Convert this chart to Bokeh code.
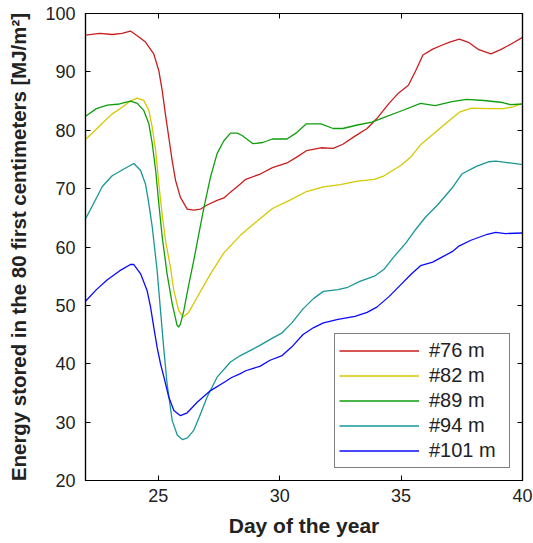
from bokeh.plotting import figure
from bokeh.models import LinearAxis, Range1d, Legend, LegendItem, FixedTicker
from bokeh.embed import file_html
from bokeh.resources import INLINE

# ---- data ----
x76 = [22.0, 22.6, 23.1, 23.5, 23.85, 24.13, 24.47, 24.81, 25.02, 25.16, 25.29, 25.43, 25.57, 25.71, 25.91,
       26.19, 26.46, 26.74, 27.01, 27.42, 27.7, 27.97, 28.38, 28.6, 29.2, 29.7, 30.3, 30.7, 31.1, 31.7, 32.2,
       32.6, 33.1, 33.6, 34.0, 34.5, 34.9, 35.3, 35.6, 35.9, 36.3, 36.7, 37.0, 37.4, 37.8, 38.2, 38.7, 39.1,
       39.5, 40.0]
y76 = [96.3, 96.6, 96.4, 96.6, 97.0, 96.2, 95.1, 93.1, 90.2, 86.8, 82.8, 78.8, 74.8, 71.4, 68.5,
       66.5, 66.3, 66.5, 67.2, 68.0, 68.4, 69.4, 70.8, 71.6, 72.5, 73.6, 74.4, 75.4, 76.5, 77.0, 76.9,
       77.6, 79.0, 80.3, 82.0, 84.6, 86.4, 87.7, 90.2, 92.9, 93.9, 94.6, 95.1, 95.6, 95.0, 93.8, 93.1, 93.8,
       94.7, 95.9]

x82 = [22.0, 22.6, 23.1, 23.5, 23.85, 24.13, 24.4, 24.61, 24.75, 24.89, 25.02, 25.16, 25.3, 25.5, 25.64,
       25.84, 26.02, 26.25, 26.6, 27.15, 27.7, 28.38, 29.0, 29.7, 30.4, 31.1, 31.8, 32.5, 33.2, 33.9, 34.3,
       35.0, 35.4, 35.8, 36.4, 37.0, 37.4, 37.9, 38.6, 39.2, 39.6, 40.0]
y82 = [78.4, 80.8, 82.8, 83.9, 85.0, 85.5, 85.1, 83.4, 80.5, 76.5, 70.8, 65.5, 61.0, 56.5, 52.5,
       49.1, 48.0, 48.8, 51.4, 55.4, 59.0, 62.0, 64.2, 66.6, 68.0, 69.5, 70.3, 70.7, 71.3, 71.6, 72.2,
       74.0, 75.4, 77.5, 79.6, 81.7, 83.1, 83.8, 83.7, 83.7, 84.0, 84.6]

x89 = [22.0, 22.45, 22.9, 23.4, 23.85, 24.13, 24.4, 24.61, 24.75, 24.89, 25.02, 25.16, 25.36, 25.57, 25.77,
       25.84, 25.91, 26.05, 26.26, 26.46, 26.67, 26.88, 27.15, 27.42, 27.7, 27.97, 28.25, 28.45, 28.9, 29.3,
       29.7, 30.3, 30.7, 31.1, 31.7, 32.2, 32.6, 33.2, 33.8, 34.3, 35.0, 35.8, 36.4, 37.1, 37.7, 38.4, 39.1,
       39.5, 40.0]
y89 = [82.4, 83.7, 84.3, 84.5, 85.0, 84.6, 83.4, 81.1, 77.7, 73.1, 67.4, 61.7, 55.4, 50.3, 46.6,
       46.3, 46.8, 49.1, 53.7, 57.7, 62.3, 66.8, 72.0, 76.0, 78.2, 79.5, 79.5, 79.1, 77.7, 77.9,
       78.5, 78.5, 79.6, 81.1, 81.1, 80.3, 80.3, 80.9, 81.4, 82.2, 83.3, 84.6, 84.2, 84.9, 85.3, 85.1, 84.8,
       84.4, 84.5]

x94 = [22.0, 22.3, 22.7, 23.1, 23.6, 23.99, 24.27, 24.47, 24.61, 24.75, 24.95, 25.09, 25.23, 25.36, 25.57,
       25.78, 26.0, 26.2, 26.46, 26.7, 27.01, 27.42, 27.97, 28.38, 28.8, 29.2, 29.7, 30.1, 30.5, 30.96,
       31.4, 31.8, 32.4, 32.8, 33.3, 33.9, 34.3, 34.7, 35.2, 35.6, 36.0, 36.5, 37.1, 37.5, 38.1, 38.6, 38.9,
       39.3, 40.0]
y94 = [64.8, 67.2, 70.4, 72.2, 73.4, 74.3, 73.1, 70.8, 67.4, 63.4, 56.0, 49.1, 42.3, 36.6, 30.3,
       27.8, 27.0, 27.3, 28.6, 31.0, 34.3, 37.7, 40.3, 41.4, 42.3, 43.2, 44.4, 45.3, 47.0, 49.4,
       51.2, 52.4, 52.7, 53.1, 54.1, 55.0, 56.2, 58.3, 60.7, 63.0, 65.1, 67.2, 70.1, 72.5, 73.8, 74.6, 74.7,
       74.5, 74.1]

x101 = [22.0, 22.45, 22.9, 23.4, 23.85, 23.99, 24.27, 24.54, 24.68, 24.81, 24.95, 25.09, 25.23, 25.43, 25.64,
        25.91, 26.19, 26.6, 27.15, 27.7, 28.0, 28.38, 28.6, 29.2, 29.6, 30.1, 30.5, 30.96, 31.4, 31.8, 32.4,
        33.1, 33.6, 34.0, 34.5, 35.0, 35.4, 35.8, 36.3, 36.7, 37.1, 37.4, 37.9, 38.5, 38.9, 39.3, 40.0]
y101 = [50.7, 52.7, 54.4, 55.9, 57.0, 57.0, 55.4, 52.5, 49.7, 46.3, 42.8, 40.0, 37.7, 34.3, 32.0,
        31.1, 31.6, 33.4, 35.4, 36.8, 37.6, 38.3, 38.8, 39.6, 40.6, 41.4, 42.9, 45.0, 46.2, 47.0, 47.6,
        48.1, 48.8, 49.7, 51.5, 53.6, 55.3, 56.8, 57.4, 58.3, 59.2, 60.2, 61.2, 62.1, 62.5, 62.3, 62.4]

labels = ["#76 m", "#82 m", "#89 m", "#94 m", "#101 m"]
colors = ["#c81e1e", "#d6c800", "#0e9e0e", "#1a9696", "#0a0aff"]
series = [(x76, y76), (x82, y82), (x89, y89), (x94, y94), (x101, y101)]

x_ticks = [25, 30, 35, 40]
y_ticks = [20, 30, 40, 50, 60, 70, 80, 90, 100]

FONT = "Liberation Sans"

p = figure(width=533, height=543, output_backend="svg", toolbar_location=None,
           x_range=Range1d(22, 40), y_range=Range1d(20, 100),
           min_border_left=85, min_border_right=11, min_border_top=13, min_border_bottom=63)
p.background_fill_color = "white"
p.border_fill_color = "white"
p.outline_line_color = "black"
p.outline_line_width = 1.2
p.xgrid.visible = False
p.ygrid.visible = False

items = []
for (xs, ys), c, lab in zip(series, colors, labels):
    r = p.line(xs, ys, line_color=c, line_width=1.3, line_join="round")
    items.append(LegendItem(label=lab, renderers=[r]))

def style_axis(ax, ticks, show_labels=True):
    ax.ticker = FixedTicker(ticks=ticks)
    ax.major_tick_in = 5
    ax.major_tick_out = 0
    ax.minor_tick_in = 0
    ax.minor_tick_out = 0
    ax.axis_line_color = "black"
    ax.axis_line_width = 1.2
    ax.major_tick_line_color = "black"
    ax.major_tick_line_width = 1
    ax.major_label_text_font = FONT
    ax.major_label_text_font_size = "18px"
    ax.major_label_text_color = "#222222"
    ax.axis_label_text_font = FONT
    ax.axis_label_text_font_size = "20px"
    ax.axis_label_text_font_style = "bold"
    ax.axis_label_text_color = "#222222"
    if not show_labels:
        ax.major_label_text_font_size = "0px"
        ax.major_label_text_alpha = 0
        ax.major_label_standoff = 0

style_axis(p.xaxis[0], x_ticks)
style_axis(p.yaxis[0], y_ticks)
p.xaxis[0].axis_label = "Day of the year"
p.yaxis[0].axis_label = "Energy stored in the 80 first centimeters [MJ/m²]"
p.xaxis[0].axis_label_text_font_size = "21px"
p.yaxis[0].axis_label_text_font_size = "20.4px"
p.xaxis[0].major_label_standoff = 8
p.yaxis[0].major_label_standoff = 10
p.xaxis[0].axis_label_standoff = 9
p.yaxis[0].axis_label_standoff = 12

top_ax = LinearAxis()
style_axis(top_ax, x_ticks, show_labels=False)
p.add_layout(top_ax, "above")
right_ax = LinearAxis()
style_axis(right_ax, y_ticks, show_labels=False)
p.add_layout(right_ax, "right")

legend = Legend(items=items, location="bottom_right")
legend.label_text_font = FONT
legend.label_text_font_size = "20px"
legend.label_text_color = "#222222"
legend.glyph_width = 80
legend.glyph_height = 25
legend.label_height = 25
legend.label_width = 76
legend.label_standoff = 10
legend.spacing = 0
legend.padding = 4
legend.margin = 12
legend.border_line_color = "black"
legend.border_line_width = 1.2
legend.background_fill_alpha = 1
p.add_layout(legend, "center")

open("out.html", "w").write(file_html(p, INLINE))
